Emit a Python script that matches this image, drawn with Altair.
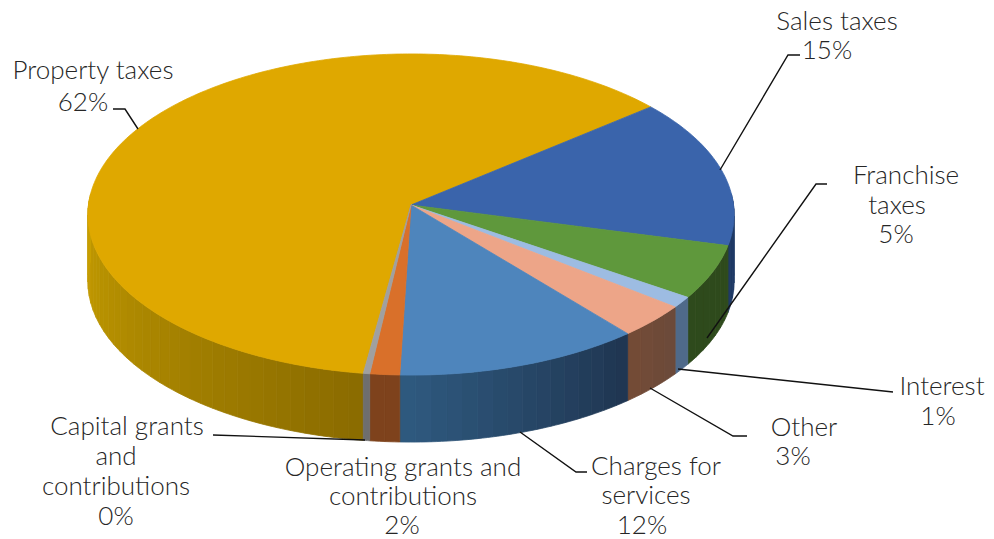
import math
import altair as alt

# ---- data (percent of total, clockwise) ----
names = ["Property taxes", "Sales taxes", "Franchise taxes", "Interest", "Other",
         "Charges for services", "Operating grants and contributions",
         "Capital grants and contributions"]
shares = [61.8, 15.0, 5.4, 1.1, 3.4, 11.6, 1.4, 0.3]
top_colors = ["#DFA800", "#3A64AB", "#5F983C", "#9DBCE2", "#EDA588", "#4E85BC", "#D9702A", "#A0A0A0"]
# wall colour at the clockwise start and end of each slice's visible wall
wall_first = ["#8A6B00", "#203A66", "#2E4A1C", "#4F6A8A", "#6B4A3A", "#1F3550", "#7E421C", "#6E6E6E"]
wall_last = ["#C9A000", "#203A66", "#2E4A1C", "#4F6A8A", "#744B36", "#2F5A80", "#7E421C", "#6E6E6E"]

label_text = ["Property taxes", "62%", "Sales taxes", "15%", "Franchise", "taxes", "5%",
              "Interest", "1%", "Other", "3%", "Charges for", "services", "12%",
              "Operating grants and", "contributions", "2%",
              "Capital grants", "and", "contributions", "0%"]
label_x = [93, 83, 837, 827, 906, 897, 896, 942, 938, 804, 793, 656, 646, 642, 403, 403, 402, 127, 116, 116, 116]
label_y = [71, 103, 22, 51, 176, 206, 235, 387, 417, 428, 457, 467, 496, 526, 468, 497, 526, 427, 457, 487, 517]

leaders = [
    [[113, 109], [125, 109], [138, 129]],
    [[800, 55], [788, 55], [720, 170]],
    [[827, 184], [816, 184], [707, 338]],
    [[678, 369], [893, 392]],
    [[650, 388], [733, 436], [747, 436]],
    [[520, 432], [576, 472], [587, 472]],
    [[213, 435], [365, 440]],
]

# ---- tilted-disc layout ----
CX, CY, RX, RY, TILT, DEPTH = 411, 205, 322.5, 160, 0.0592, 67
START = 188.0


def rim(clock_deg):
    a = math.radians(clock_deg)
    u, v = math.sin(a), -math.cos(a)
    w = 1 - TILT * v
    return [CX + RX * u / w, CY + RY * v / w]


def mix(c1, c2, t):
    p = [int(c1[i:i + 2], 16) for i in (1, 3, 5)]
    q = [int(c2[i:i + 2], 16) for i in (1, 3, 5)]
    return "#%02x%02x%02x" % tuple(round(a + (b - a) * t) for a, b in zip(p, q))


def poly(pts, fill):
    return {"type": "Feature", "properties": {"fill": fill},
            "geometry": {"type": "Polygon", "coordinates": [pts + [pts[0]]]}}


walls, tops = [], []
a0 = START
for share, tc, wa, wb in zip(shares, top_colors, wall_first, wall_last):
    a1 = a0 + share * 3.6
    n = max(1, int(a1 - a0))
    tops.append(poly([[CX, CY]] + [rim(a0 + (a1 - a0) * i / n) for i in range(n + 1)], tc))
    for lo, hi in ((86, 274), (446, 634)):
        s, e = max(a0, lo), min(a1, hi)
        if e <= s:
            continue
        m = max(1, int((e - s) / 2.5))
        for i in range(m):
            # each band is a fine strip of rim points so the curved edge stays smooth
            arc = [rim(s + (e - s) * (i + j / 3) / m) for j in range(4)]
            q = arc + [[p[0], p[1] + DEPTH] for p in reversed(arc)]
            walls.append(poly(q, mix(wa, wb, (i + 0.5) / m)))
    a0 = a1

features = walls + tops

lines = [{"type": "Feature", "properties": {},
          "geometry": {"type": "LineString", "coordinates": pts}} for pts in leaders]
labels = [{"t": t, "x": x, "y": y} for t, x, y in zip(label_text, label_x, label_y)]

proj = dict(type="identity", scale=1, translate=[-8, -8])

shapes = alt.Chart(alt.Data(values=features)).mark_geoshape(strokeWidth=0.8).encode(
    fill=alt.Fill("properties.fill:N", scale=None),
    stroke=alt.Stroke("properties.fill:N", scale=None),
).project(**proj)

leader_layer = alt.Chart(alt.Data(values=lines)).mark_geoshape(
    filled=False, stroke="#111111", strokeWidth=1.4
).project(**proj)

text_layer = alt.Chart(alt.Data(values=labels)).mark_text(
    font="Lato", fontSize=26, fontWeight=300, color="#262626", align="center", baseline="middle"
).encode(longitude="x:Q", latitude="y:Q", text="t:N").project(**proj)

chart = alt.layer(shapes, leader_layer, text_layer).properties(
    width=978, height=531, padding=0, background="white"
).configure_view(stroke=None)

chart.save("out.html", embed_options={"renderer": "svg", "actions": False})
